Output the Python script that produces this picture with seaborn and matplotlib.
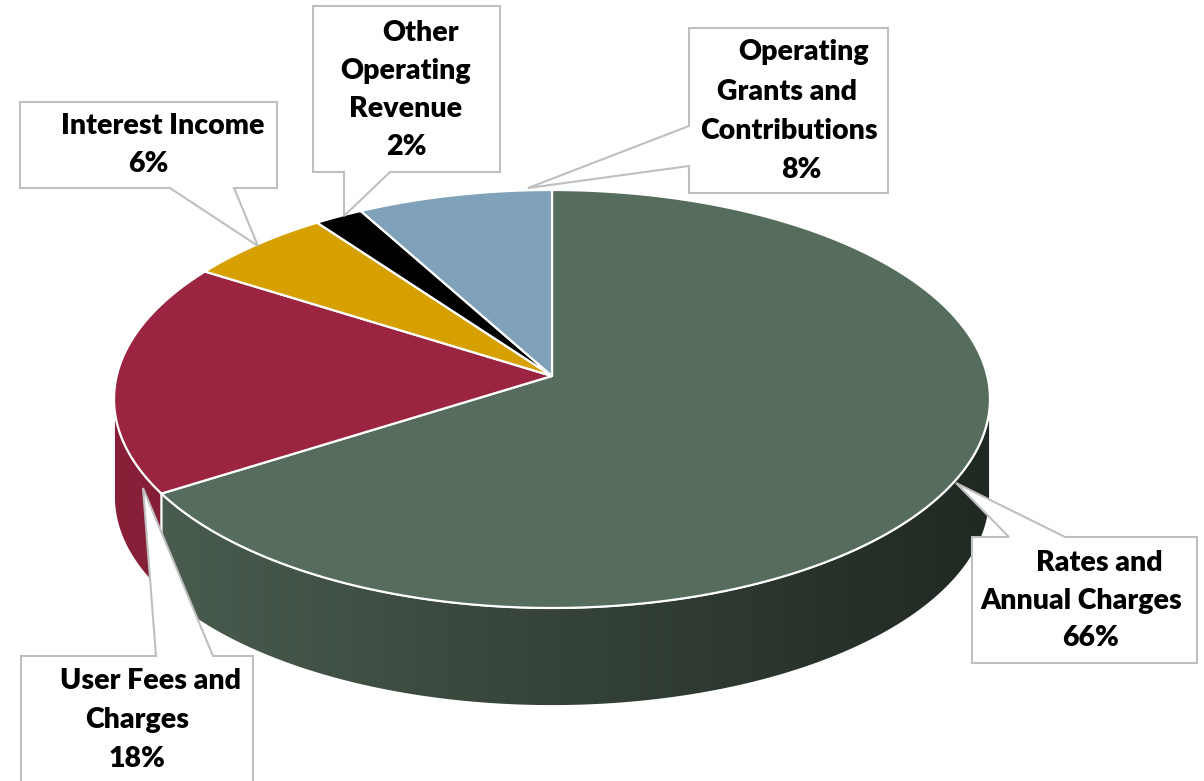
import numpy as np
import matplotlib
matplotlib.use("Agg")
import matplotlib.pyplot as plt
from matplotlib.patches import Polygon
from matplotlib.colors import to_rgb
import seaborn as sns

# ---- data ----
categories = ["Rates and\nAnnual Charges", "User Fees and\nCharges", "Interest Income",
              "Other\nOperating\nRevenue", "Operating\nGrants and\nContributions"]
shares = [66, 18, 6, 2, 8]
slice_colors = ["#566c5c", "#9b2440", "#d6a100", "#000000", "#7fa1b9"]

# ---- geometry of the tilted disc (pixels) ----
CX, CY = 552, 399          # centre of the outline ellipse
A, B, C, K = 435.3, 209, 23, 0.11   # simple perspective mapping
DEPTH = 98

def proj(t, r=1.0):
    t = np.radians(t)
    u, v = r * np.cos(t), r * np.sin(t)
    w = 1 + K * v
    return CX + A * u / w, CY - (B * v + C) / w

# callout boxes: outline incl. pointer, text centre, first line y, line step, per-line shift
callouts = [
    dict(poly=[(972, 537), (1009, 537), (956, 483), (1065, 537), (1197, 537), (1197, 663), (972, 663)],
         cx=1084, y0=563, dy=37.5, shift=[15, -3, 7]),
    dict(poly=[(21, 656), (156, 656), (143, 488), (213, 656), (253, 656), (253, 800), (21, 800)],
         cx=137, y0=681, dy=39, shift=[13, 0, 0]),
    dict(poly=[(20, 102), (277, 102), (277, 188), (234, 188), (258, 246), (170, 188), (20, 188)],
         cx=148, y0=126, dy=38, shift=[15, 0]),
    dict(poly=[(313, 6), (500, 6), (500, 172), (390, 172), (344, 216), (344, 172), (313, 172)],
         cx=406, y0=33, dy=38, shift=[15, 0, 0, 0]),
    dict(poly=[(689, 28), (888, 28), (888, 193), (689, 193), (689, 166), (528, 188), (689, 126)],
         cx=788, y0=52, dy=39.5, shift=[16, -1, 1, 13]),
]

sns.set_theme(style="white")
plt.rcParams['font.family'] = ['Lato', 'DejaVu Sans']

fig = plt.figure(figsize=(12.04, 7.81), dpi=100)
ax = fig.add_axes([0, 0, 1, 1])
ax.set_xlim(0, 1204)
ax.set_ylim(781, 0)
ax.axis('off')

total = float(sum(shares))
cum = np.concatenate([[0], np.cumsum(shares)]) / total * 360
lo = 180 + np.degrees(np.arcsin(K))
hi = 360 - np.degrees(np.arcsin(K))

# --- side walls (front half only) with a left-to-right shading ---
xs = np.linspace(100, 1000, 500)
shade = np.interp(xs, [114, 990], [0.88, 0.37])
for i, col in enumerate(slice_colors):
    t1, t2 = 90 - cum[i + 1], 90 - cum[i]
    for off in (0, 360, -360):
        a, b = max(t1 + off, lo), min(t2 + off, hi)
        if a >= b:
            continue
        ts = np.linspace(a, b, 200)
        tx, ty = proj(ts)
        pts = np.column_stack([np.concatenate([tx, tx[::-1]]),
                               np.concatenate([ty, ty[::-1] + DEPTH])])
        patch = Polygon(pts, closed=True, facecolor='none', edgecolor='none')
        ax.add_patch(patch)
        img = np.array(to_rgb(col))[None, None, :] * shade[None, :, None]
        im = ax.imshow(img, extent=[100, 1000, 720, 380], aspect='auto',
                       interpolation='bilinear', zorder=1)
        im.set_clip_path(patch)
        ax.add_patch(Polygon(pts, closed=True, facecolor='none',
                             edgecolor='white', lw=1.3, zorder=2))

# --- top face ---
vx, vy = proj(0, 0)
for i, col in enumerate(slice_colors):
    t1, t2 = 90 - cum[i + 1], 90 - cum[i]
    ts = np.linspace(t1, t2, 300)
    tx, ty = proj(ts)
    pts = np.column_stack([np.concatenate([[vx], tx]), np.concatenate([[vy], ty])])
    ax.add_patch(Polygon(pts, closed=True, facecolor=col, edgecolor='white',
                         lw=1.6, joinstyle='miter', zorder=3))

# --- callouts ---
for i, c in enumerate(callouts):
    ax.add_patch(Polygon(c['poly'], closed=True, facecolor='white',
                         edgecolor='#bfbfbf', lw=1.5, zorder=4))
    lines = categories[i].split("\n") + [f"{shares[i]}%"]
    for j, line in enumerate(lines):
        ax.text(c['cx'] + c['shift'][j], c['y0'] + j * c['dy'], line,
                ha='center', va='center', fontsize=20.5, fontweight='heavy',
                color='black', zorder=5)

fig.savefig("out.png", dpi=100, facecolor='white')
